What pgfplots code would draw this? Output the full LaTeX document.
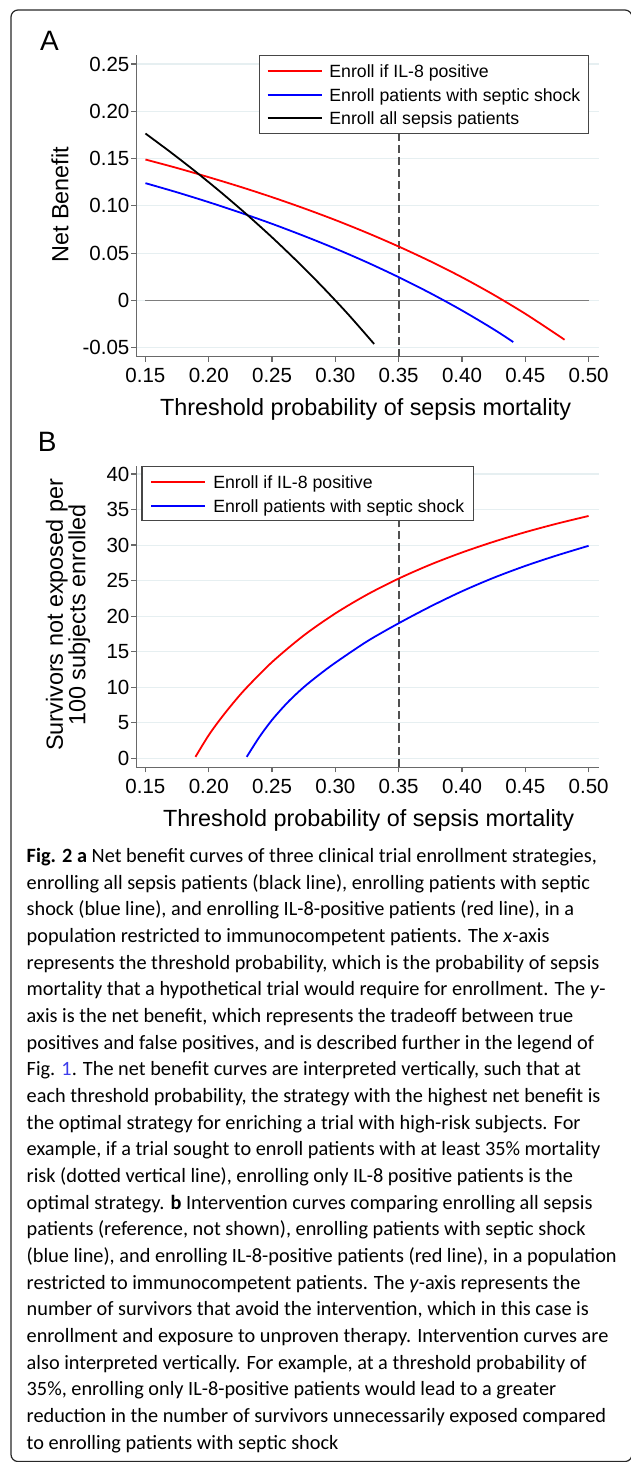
\documentclass[border=0pt]{standalone}
\usepackage{pgfplots}
\pgfplotsset{compat=1.18}
\usepackage{fontspec}
\setmainfont{Liberation Sans}
\newfontfamily\capfont{Carlito}
\definecolor{axgray}{RGB}{105,105,105}
\definecolor{gridc}{RGB}{230,239,241}
\definecolor{zerog}{RGB}{125,125,125}
\definecolor{dashg}{RGB}{80,80,80}
\definecolor{legg}{RGB}{70,70,70}
\definecolor{figred}{RGB}{255,0,0}
\definecolor{figblue}{RGB}{0,0,255}
\definecolor{linkblue}{RGB}{60,60,235}
\definecolor{framec}{RGB}{40,40,40}

\pgfplotsset{
 panel/.style={
  scale only axis, width=462.4pt,
  xmin=0.1427, xmax=0.5079,
  axis x line*=bottom, axis y line*=left,
  axis line style={draw=axgray, line width=1.2pt},
  major tick style={draw=axgray, line width=1.2pt},
  tick align=outside, major tick length=5pt,
  ymajorgrids, major grid style={draw=gridc, line width=1.1pt},
  xtick={0.15,0.2,0.25,0.3,0.35,0.4,0.45,0.5},
  xticklabels={0.15,0.20,0.25,0.30,0.35,0.40,0.45,0.50},
  tick label style={font=\fontsize{20.5}{24}\selectfont},
  xticklabel style={yshift=-3pt},
  yticklabel style={xshift=1.7pt},
  label style={font=\fontsize{23.4}{22.5}\selectfont},
  xlabel={Threshold probability of sepsis mortality},
  legend cell align=left,
  legend style={draw=legg, line width=1.2pt, fill=white,
    font=\fontsize{17.7}{20}\selectfont,
    inner xsep=7.5pt, inner ysep=6.7pt, row sep=6.7pt,
    nodes={inner sep=1pt, text height=14pt, text depth=1pt},
    /tikz/every odd column/.append style={column sep=5.8pt}},
 }
}
\newcommand\cl[2]{\node[anchor=base west, inner sep=0pt, font=\capfont\fontsize{20.3}{26}\selectfont] at (26.5pt,{-(862.5+#1*26.67)*1pt}) {#2};}

\begin{document}
\begin{tikzpicture}
\useasboundingbox (0pt,0pt) rectangle (630pt,-1462pt);
\fill[white] (0pt,0pt) rectangle (630pt,-1462pt);
\draw[framec, line width=1.2pt, rounded corners=7pt] (11pt,-10pt) rectangle (632pt,-1461.5pt);

\node[anchor=base, inner sep=0pt, font=\fontsize{28}{28}\selectfont] at (49.5pt,-50pt) {A};
\node[anchor=base, inner sep=0pt, font=\fontsize{28}{28}\selectfont] at (47.2pt,-451.7pt) {B};

% Panel A
\begin{axis}[panel, at={(136.2pt,-356.7pt)}, anchor=south west, height=301.7pt,
  ymin=-0.0595, ymax=0.2595,
  ytick={-0.05,0,0.05,0.1,0.15,0.2,0.25},
  yticklabels={-0.05,0,0.05,0.10,0.15,0.20,0.25},
  ylabel={Net Benefit},
  ylabel style={at={(axis description cs:-0.1468,0.5028)}, anchor=base},
  xlabel style={at={(axis description cs:0.4961,-0.1946)}, anchor=base},
  legend style={at={(0.9801,1)}, anchor=north east}]
\addlegendimage{legend image code/.code={\draw[figred, line width=2pt] (0pt,0pt) -- (54pt,0pt);}}
\addlegendentry{Enroll if IL-8 positive}
\addlegendimage{legend image code/.code={\draw[figblue, line width=2pt] (0pt,0pt) -- (54pt,0pt);}}
\addlegendentry{Enroll patients with septic shock}
\addlegendimage{legend image code/.code={\draw[black, line width=2pt] (0pt,0pt) -- (54pt,0pt);}}
\addlegendentry{Enroll all sepsis patients}
\addplot[zerog, line width=1.2pt, forget plot] coordinates {(0.15,0) (0.5,0)};
\addplot[dashg, line width=2pt, dash pattern=on 8pt off 4pt, forget plot] coordinates {(0.35,-0.0595) (0.35,0.2595)};
\addplot[figred, line width=1.8pt, smooth, forget plot] coordinates {
(0.15,0.1490) (0.175,0.1400) (0.20,0.1303) (0.225,0.1201) (0.25,0.1092) (0.275,0.0975) (0.30,0.0850) (0.325,0.0715) (0.35,0.0570) (0.375,0.0414) (0.40,0.0245) (0.425,0.0060) (0.45,-0.0141) (0.475,-0.0361) (0.481,-0.0416)};
\addplot[figblue, line width=1.8pt, smooth, forget plot] coordinates {
(0.15,0.1240) (0.175,0.1143) (0.20,0.1039) (0.225,0.0928) (0.25,0.0810) (0.275,0.0683) (0.30,0.0548) (0.325,0.0403) (0.35,0.0246) (0.375,0.0077) (0.40,-0.0106) (0.425,-0.0305) (0.4405,-0.0440)};
\addplot[black, line width=1.8pt, smooth, forget plot] coordinates {
(0.15,0.1765) (0.17,0.1566) (0.19,0.1358) (0.21,0.1139) (0.23,0.0909) (0.25,0.0667) (0.27,0.0411) (0.29,0.0141) (0.31,-0.0145) (0.3306,-0.0460)};
\end{axis}

% Panel B
\begin{axis}[panel, at={(136.2pt,-767.3pt)}, anchor=south west, height=301.3pt,
  ymin=-1.27, ymax=41.13,
  ytick={0,5,10,15,20,25,30,35,40},
  yticklabels={0,5,10,15,20,25,30,35,40},
  ylabel={Survivors not exposed per\\100 subjects enrolled},
  ylabel style={at={(axis description cs:-0.1475,0.5055)}, anchor=center, align=center},
  xlabel style={at={(axis description cs:0.5026,-0.1948)}, anchor=base},
  legend style={at={(0.0112,1)}, anchor=north west, inner xsep=8.5pt}]
\addlegendimage{legend image code/.code={\draw[figred, line width=2pt] (0pt,0pt) -- (54pt,0pt);}}
\addlegendentry{Enroll if IL-8 positive}
\addlegendimage{legend image code/.code={\draw[figblue, line width=2pt] (0pt,0pt) -- (54pt,0pt);}}
\addlegendentry{Enroll patients with septic shock}
\addplot[dashg, line width=2pt, dash pattern=on 8pt off 4pt, forget plot] coordinates {(0.35,-1.27) (0.35,41.13)};
\addplot[figred, line width=1.8pt, smooth, forget plot] coordinates {
(0.1895,0.2) (0.20,3.26) (0.21,5.71) (0.22,7.93) (0.23,9.96) (0.25,13.54) (0.275,17.28) (0.30,20.39) (0.325,23.03) (0.35,25.29) (0.375,27.25) (0.40,28.96) (0.425,30.47) (0.45,31.82) (0.475,33.02) (0.50,34.10)};
\addplot[figblue, line width=1.8pt, smooth, forget plot] coordinates {
(0.23,0.2) (0.24,3.0) (0.25,5.4) (0.2625,7.9) (0.275,10.0) (0.2875,11.8) (0.30,13.45) (0.325,16.45) (0.35,19.0) (0.375,21.35) (0.40,23.5) (0.425,25.4) (0.45,27.07) (0.475,28.55) (0.50,29.9)};
\end{axis}

% Caption
\cl{0}{\textbf{Fig. 2 a} Net benefit curves of three clinical trial enrollment strategies,}
\cl{1}{enrolling all sepsis patients (black line), enrolling patients with septic}
\cl{2}{shock (blue line), and enrolling IL-8-positive patients (red line), in a}
\cl{3}{population restricted to immunocompetent patients. The \textit{x}-axis}
\cl{4}{represents the threshold probability, which is the probability of sepsis}
\cl{5}{mortality that a hypothetical trial would require for enrollment. The \textit{y}-}
\cl{6}{axis is the net benefit, which represents the tradeoff between true}
\cl{7}{positives and false positives, and is described further in the legend of}
\cl{8}{Fig. \textcolor{linkblue}{1}. The net benefit curves are interpreted vertically, such that at}
\cl{9}{each threshold probability, the strategy with the highest net benefit is}
\cl{10}{the optimal strategy for enriching a trial with high-risk subjects. For}
\cl{11}{example, if a trial sought to enroll patients with at least 35\% mortality}
\cl{12}{risk (dotted vertical line), enrolling only IL-8 positive patients is the}
\cl{13}{optimal strategy. \textbf{b} Intervention curves comparing enrolling all sepsis}
\cl{14}{patients (reference, not shown), enrolling patients with septic shock}
\cl{15}{(blue line), and enrolling IL-8-positive patients (red line), in a population}
\cl{16}{restricted to immunocompetent patients. The \textit{y}-axis represents the}
\cl{17}{number of survivors that avoid the intervention, which in this case is}
\cl{18}{enrollment and exposure to unproven therapy. Intervention curves are}
\cl{19}{also interpreted vertically. For example, at a threshold probability of}
\cl{20}{35\%, enrolling only IL-8-positive patients would lead to a greater}
\cl{21}{reduction in the number of survivors unnecessarily exposed compared}
\cl{22}{to enrolling patients with septic shock}
\end{tikzpicture}
\end{document}
